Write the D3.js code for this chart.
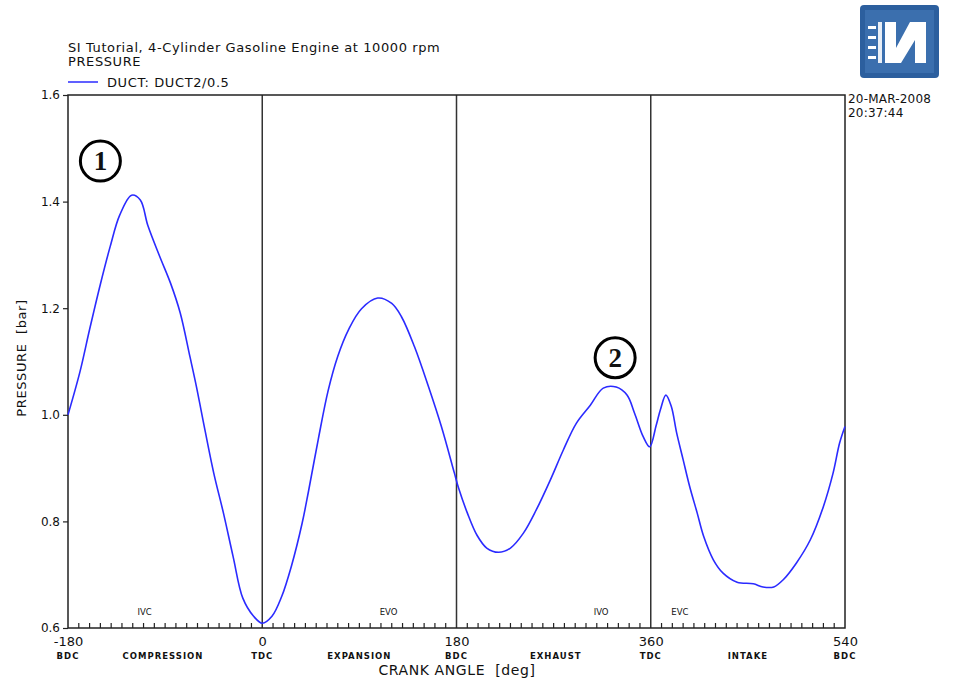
<!DOCTYPE html>
<html>
<head>
<meta charset="utf-8">
<script src="https://cdn.jsdelivr.net/npm/d3@7"></script>
<style>
  body { margin: 0; background: #fff; }
  svg { display: block; }
  text { font-family: "DejaVu Sans", Verdana, sans-serif; fill: #111; white-space: pre; }
</style>
</head>
<body>
<svg id="chart" width="954" height="680"></svg>
<script>
// ---- data ----
const crankAngle = [-180,-169,-160,-150,-141,-132,-121,-113,-106,-95,-85,-76,-67,-61,-55,-45,-36,-27,-18,-8,0,9,18,27,37,43,52,61,70,80,92,107,120,129,141,154,166,178,182,190,199,208,219,230,242,254,267,279,291,304,316,328,338,345,353,359,365,369,374,379,384,390,396,403,409,418,427,440,455,464,474,483,495,508,520,529,535,540];
const pressure = [1.0,1.08,1.16,1.245,1.315,1.375,1.412,1.403,1.355,1.297,1.247,1.191,1.109,1.053,0.991,0.891,0.816,0.734,0.656,0.622,0.609,0.622,0.659,0.716,0.797,0.858,0.955,1.045,1.11,1.16,1.199,1.219,1.209,1.184,1.128,1.053,0.978,0.891,0.862,0.816,0.774,0.75,0.742,0.75,0.778,0.822,0.878,0.934,0.984,1.018,1.05,1.052,1.037,1.003,0.959,0.94,0.98,1.01,1.037,1.016,0.966,0.916,0.866,0.816,0.772,0.728,0.703,0.686,0.683,0.677,0.677,0.691,0.722,0.766,0.828,0.891,0.947,0.978];
const xTickValues = [-180, 0, 180, 360, 540];
const xTickSubLabels = ["BDC", "TDC", "BDC", "TDC", "BDC"];
const strokeLabels = ["COMPRESSION", "EXPANSION", "EXHAUST", "INTAKE"];
const strokeCenters = [-92, 90, 272, 450];
const dividerAngles = [0, 180, 360];
const yTickValues = [0.6, 0.8, 1.0, 1.2, 1.4, 1.6];
const valveEvents = ["IVC", "EVO", "IVO", "EVC"];
const valveAngles = [-109, 117, 314, 387];
const markerLabels = ["1", "2"];
const markerAngles = [-150, 327];
const markerPressures = [1.476, 1.107];

// ---- layout ----
const svg = d3.select("#chart");
const x = d3.scaleLinear().domain([-180, 540]).range([68, 845]);
const y = d3.scaleLinear().domain([0.6, 1.6]).range([628, 95]);

// header texts
svg.append("text").attr("x", 68).attr("y", 52).attr("font-size", 13).attr("letter-spacing", 0.6)
  .text("SI Tutorial, 4-Cylinder Gasoline Engine at 10000 rpm");
svg.append("text").attr("x", 68).attr("y", 66).attr("font-size", 13).attr("letter-spacing", 0.6)
  .text("PRESSURE");
svg.append("line").attr("x1", 68).attr("x2", 98).attr("y1", 82).attr("y2", 82)
  .attr("stroke", "#2b2bff").attr("stroke-width", 1.5);
svg.append("text").attr("x", 107).attr("y", 87).attr("font-size", 13).attr("letter-spacing", 0.6)
  .text("DUCT: DUCT2/0.5");

// date
svg.append("text").attr("x", 848).attr("y", 103).attr("font-size", 12).attr("letter-spacing", 0.2).text("20-MAR-2008");
svg.append("text").attr("x", 848).attr("y", 117).attr("font-size", 12).attr("letter-spacing", 0.2).text("20:37:44");

// logo
const logo = svg.append("g");
logo.append("rect").attr("x", 860).attr("y", 5).attr("width", 79).attr("height", 73)
  .attr("rx", 4).attr("fill", "#2c5f9e");
logo.append("rect").attr("x", 865).attr("y", 10).attr("width", 69).attr("height", 63)
  .attr("fill", "#3b6fae");
logo.append("polygon")
  .attr("points", "885,22 896,22 896,48 910,22 926,22 926,63 915,63 915,40 901,63 885,63")
  .attr("fill", "#ffffff");
[26, 36, 46, 56].forEach(yy => {
  logo.append("rect").attr("x", 868).attr("y", yy).attr("width", 8).attr("height", 3).attr("fill", "#ffffff");
});
logo.append("rect").attr("x", 878).attr("y", 22).attr("width", 4).attr("height", 41).attr("fill", "#e8eef6");

// dividers
svg.selectAll(".div").data(dividerAngles).enter().append("line")
  .attr("x1", d => x(d)).attr("x2", d => x(d)).attr("y1", y(1.6)).attr("y2", y(0.6))
  .attr("stroke", "#333").attr("stroke-width", 1.5);

// minor ticks on bottom axis
const minor = d3.range(-170, 540, 10).filter(d => !dividerAngles.includes(d));
svg.selectAll(".mt").data(minor).enter().append("line")
  .attr("x1", d => x(d)).attr("x2", d => x(d)).attr("y1", y(0.6)).attr("y2", y(0.6) - 5)
  .attr("stroke", "#222").attr("stroke-width", 1.2);

// frame
svg.append("rect").attr("x", x(-180)).attr("y", y(1.6))
  .attr("width", x(540) - x(-180)).attr("height", y(0.6) - y(1.6))
  .attr("fill", "none").attr("stroke", "#222").attr("stroke-width", 1.5);

// y axis
const yAxis = d3.axisLeft(y).tickValues(yTickValues).tickFormat(d3.format(".1f")).tickSize(5).tickPadding(3);
const yg = svg.append("g").attr("transform", `translate(${x(-180)},0)`).call(yAxis);
yg.select(".domain").remove();
yg.selectAll("text").attr("font-size", 12).style("font-family", '"DejaVu Sans", Verdana, sans-serif').attr("fill", "#111");
yg.selectAll("line").attr("stroke", "#222").attr("stroke-width", 1.2);

// x axis
const xAxis = d3.axisBottom(x).tickValues(xTickValues).tickFormat(d => String(d)).tickSize(0).tickPadding(9);
const xg = svg.append("g").attr("transform", `translate(0,${y(0.6)})`).call(xAxis);
xg.select(".domain").remove();
xg.selectAll("text").attr("font-size", 13).style("font-family", '"DejaVu Sans", Verdana, sans-serif').attr("fill", "#111");

svg.selectAll(".sub").data(xTickValues).enter().append("text")
  .attr("x", d => x(d)).attr("y", 659).attr("text-anchor", "middle").attr("font-size", 8.5)
  .attr("font-weight", "bold").attr("letter-spacing", 1).text((d, i) => xTickSubLabels[i]);
svg.selectAll(".stroke").data(strokeCenters).enter().append("text")
  .attr("x", d => x(d)).attr("y", 659).attr("text-anchor", "middle").attr("font-size", 8.5)
  .attr("font-weight", "bold").attr("letter-spacing", 1).text((d, i) => strokeLabels[i]);

svg.append("text").attr("x", 457).attr("y", 675).attr("text-anchor", "middle").attr("font-size", 14)
  .attr("letter-spacing", 0.6).text("CRANK ANGLE  [deg]");
svg.append("text").attr("transform", "translate(26,358) rotate(-90)").attr("text-anchor", "middle")
  .attr("font-size", 13).attr("letter-spacing", 0.6).text("PRESSURE  [bar]");

// valve events
svg.selectAll(".ve").data(valveAngles).enter().append("text")
  .attr("x", d => x(d)).attr("y", 615).attr("text-anchor", "middle").attr("font-size", 8.5)
  .text((d, i) => valveEvents[i]);

// curve
const line = d3.line().x(d => x(d[0])).y(d => y(d[1])).curve(d3.curveCatmullRom.alpha(0.5));
const pts = crankAngle.map((a, i) => [a, pressure[i]]);
svg.append("path").datum(pts).attr("d", line).attr("fill", "none")
  .attr("stroke", "#2b2bff").attr("stroke-width", 1.6);

// circled markers
markerAngles.forEach((a, i) => {
  const g = svg.append("g").attr("transform", `translate(${x(a)},${y(markerPressures[i])})`);
  g.append("circle").attr("r", 20).attr("fill", "#fff").attr("stroke", "#000").attr("stroke-width", 3);
  g.append("text").attr("text-anchor", "middle").attr("y", 9).attr("font-size", 27)
    .attr("font-weight", "bold").style("font-family", '"Liberation Serif", "Times New Roman", serif')
    .text(markerLabels[i]);
});
</script>
</body>
</html>
